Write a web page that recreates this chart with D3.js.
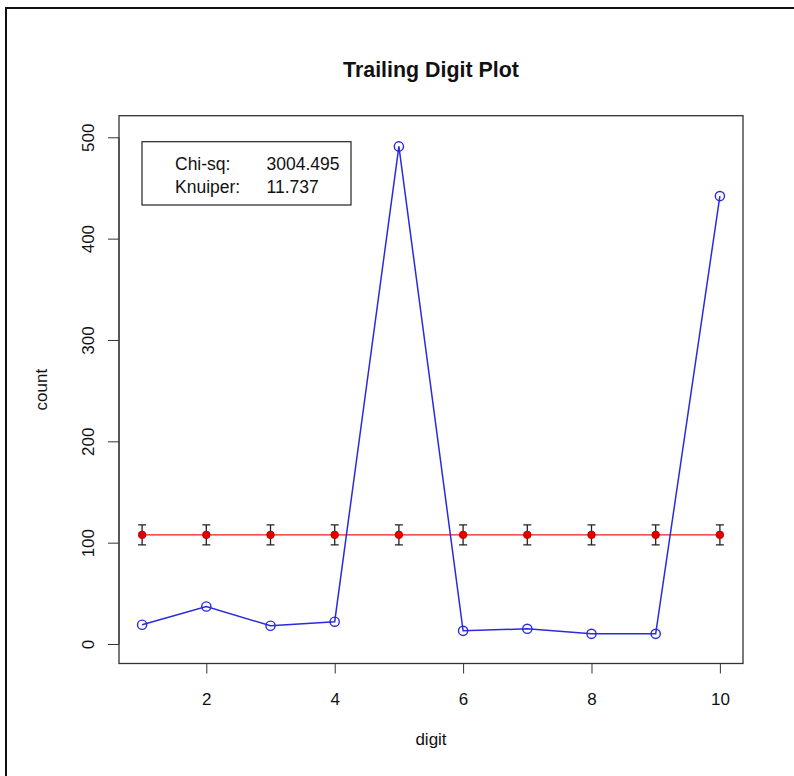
<!DOCTYPE html>
<html>
<head>
<meta charset="utf-8">
<script src="https://cdn.jsdelivr.net/npm/d3@7"></script>
<style>
  html, body { margin: 0; padding: 0; background: #fff; }
  svg { display: block; font-family: "Liberation Sans", Arial, Helvetica, sans-serif; }
</style>
</head>
<body>
<svg id="chart" width="794" height="776"></svg>
<script>
// ---- data ----
const digits = [1, 2, 3, 4, 5, 6, 7, 8, 9, 10];
const counts = [19, 37, 18, 22, 491, 13, 15, 10, 10, 442];
const expectedCounts = [107.7, 107.7, 107.7, 107.7, 107.7, 107.7, 107.7, 107.7, 107.7, 107.7];
const errorHalfWidth = [9.85, 9.85, 9.85, 9.85, 9.85, 9.85, 9.85, 9.85, 9.85, 9.85];
const xTicks = [2, 4, 6, 8, 10];
const yTicks = [0, 100, 200, 300, 400, 500];
const legendLabels = ["Chi-sq:", "Knuiper:"];
const legendValues = ["3004.495", "11.737"];
const titleText = "Trailing Digit Plot";
const xLabel = "digit";
const yLabel = "count";

// ---- layout ----
const svg = d3.select("#chart");
const box = { left: 119, right: 743, top: 115.7, bottom: 663.5 };

const x = d3.scaleLinear().domain([0.64, 10.36]).range([box.left, box.right]);
const y = d3.scaleLinear().domain([0, 500]).range([644, 137.3]);

// outer frame (only top/left visible in reference)
svg.append("rect")
  .attr("x", 6).attr("y", 8).attr("width", 900).attr("height", 900)
  .attr("fill", "none").attr("stroke", "#111").attr("stroke-width", 2);

// title
svg.append("text")
  .attr("x", (box.left + box.right) / 2).attr("y", 77)
  .attr("text-anchor", "middle")
  .attr("font-weight", "bold").attr("font-size", 21.4)
  .attr("fill", "#111")
  .text(titleText);

// x axis
const xAxis = svg.append("g")
  .attr("transform", `translate(0,${box.bottom})`)
  .call(d3.axisBottom(x).tickValues(xTicks).tickSize(10).tickPadding(8).tickSizeOuter(0));
xAxis.select(".domain").attr("d", `M${x(xTicks[0])},0H${x(xTicks[xTicks.length - 1])}`).attr("stroke", "#333");
xAxis.selectAll(".tick line").attr("stroke", "#333");
xAxis.selectAll(".tick text")
  .attr("font-size", 17).attr("fill", "#111").attr("font-family", "Liberation Sans, Arial, sans-serif")
  .attr("dy", null).attr("y", 41.5);

// y axis
const yAxis = svg.append("g")
  .attr("transform", `translate(${box.left},0)`)
  .call(d3.axisLeft(y).tickValues(yTicks).tickSize(11).tickSizeOuter(0));
yAxis.select(".domain").attr("d", `M0,${y(yTicks[0])}V${y(yTicks[yTicks.length - 1])}`).attr("stroke", "#333");
yAxis.selectAll(".tick line").attr("stroke", "#333");
yAxis.selectAll(".tick text")
  .attr("font-size", 17).attr("fill", "#111").attr("font-family", "Liberation Sans, Arial, sans-serif")
  .attr("x", null).attr("dy", null)
  .attr("text-anchor", "middle")
  .attr("transform", "translate(-25,0) rotate(-90)");

// plot box
svg.append("rect")
  .attr("x", box.left).attr("y", box.top)
  .attr("width", box.right - box.left).attr("height", box.bottom - box.top)
  .attr("fill", "none").attr("stroke", "#333").attr("stroke-width", 1.3);

// axis labels
svg.append("text")
  .attr("x", (box.left + box.right) / 2).attr("y", 745)
  .attr("text-anchor", "middle").attr("font-size", 17).attr("fill", "#111")
  .text(xLabel);
svg.append("text")
  .attr("transform", `translate(47,${(box.top + box.bottom) / 2}) rotate(-90)`)
  .attr("text-anchor", "middle").attr("font-size", 17).attr("fill", "#111")
  .text(yLabel);

// legend box
const lg = svg.append("g");
lg.append("rect")
  .attr("x", 142).attr("y", 141.7).attr("width", 209).attr("height", 63.3)
  .attr("fill", "#fff").attr("stroke", "#222").attr("stroke-width", 1.2);
legendLabels.forEach((t, i) => {
  lg.append("text").attr("x", 175).attr("y", 170 + i * 22.5)
    .attr("font-size", 17.5).attr("fill", "#111").text(t);
  lg.append("text").attr("x", 266.5).attr("y", 170 + i * 22.5)
    .attr("font-size", 17.5).attr("fill", "#111").text(legendValues[i]);
});

// expected line (red)
const expData = digits.map((d, i) => ({ d, v: expectedCounts[i], e: errorHalfWidth[i] }));
svg.append("path")
  .datum(expData)
  .attr("fill", "none").attr("stroke", "#f21b1b").attr("stroke-width", 1.3)
  .attr("d", d3.line().x(p => x(p.d)).y(p => y(p.v)));

// error bars
const eb = svg.append("g").attr("stroke", "#222").attr("stroke-width", 1.3).attr("fill", "none");
expData.forEach(p => {
  eb.append("path")
    .attr("d", `M${x(p.d)},${y(p.v - p.e)}V${y(p.v + p.e)}` +
               `M${x(p.d) - 4},${y(p.v + p.e)}H${x(p.d) + 4}` +
               `M${x(p.d) - 4},${y(p.v - p.e)}H${x(p.d) + 4}`);
});

// expected points
svg.append("g").selectAll("circle")
  .data(expData).join("circle")
  .attr("cx", p => x(p.d)).attr("cy", p => y(p.v)).attr("r", 3.8)
  .attr("fill", "#e00000").attr("stroke", "#b00000").attr("stroke-width", 0.8);

// observed line (blue)
const obs = digits.map((d, i) => ({ d, v: counts[i] }));
svg.append("path")
  .datum(obs)
  .attr("fill", "none").attr("stroke", "#2b2bdc").attr("stroke-width", 1.5)
  .attr("d", d3.line().x(p => x(p.d)).y(p => y(p.v)));
svg.append("g").selectAll("circle")
  .data(obs).join("circle")
  .attr("cx", p => x(p.d)).attr("cy", p => y(p.v)).attr("r", 4.6)
  .attr("fill", "none").attr("stroke", "#2b2bdc").attr("stroke-width", 1.4);
</script>
</body>
</html>
